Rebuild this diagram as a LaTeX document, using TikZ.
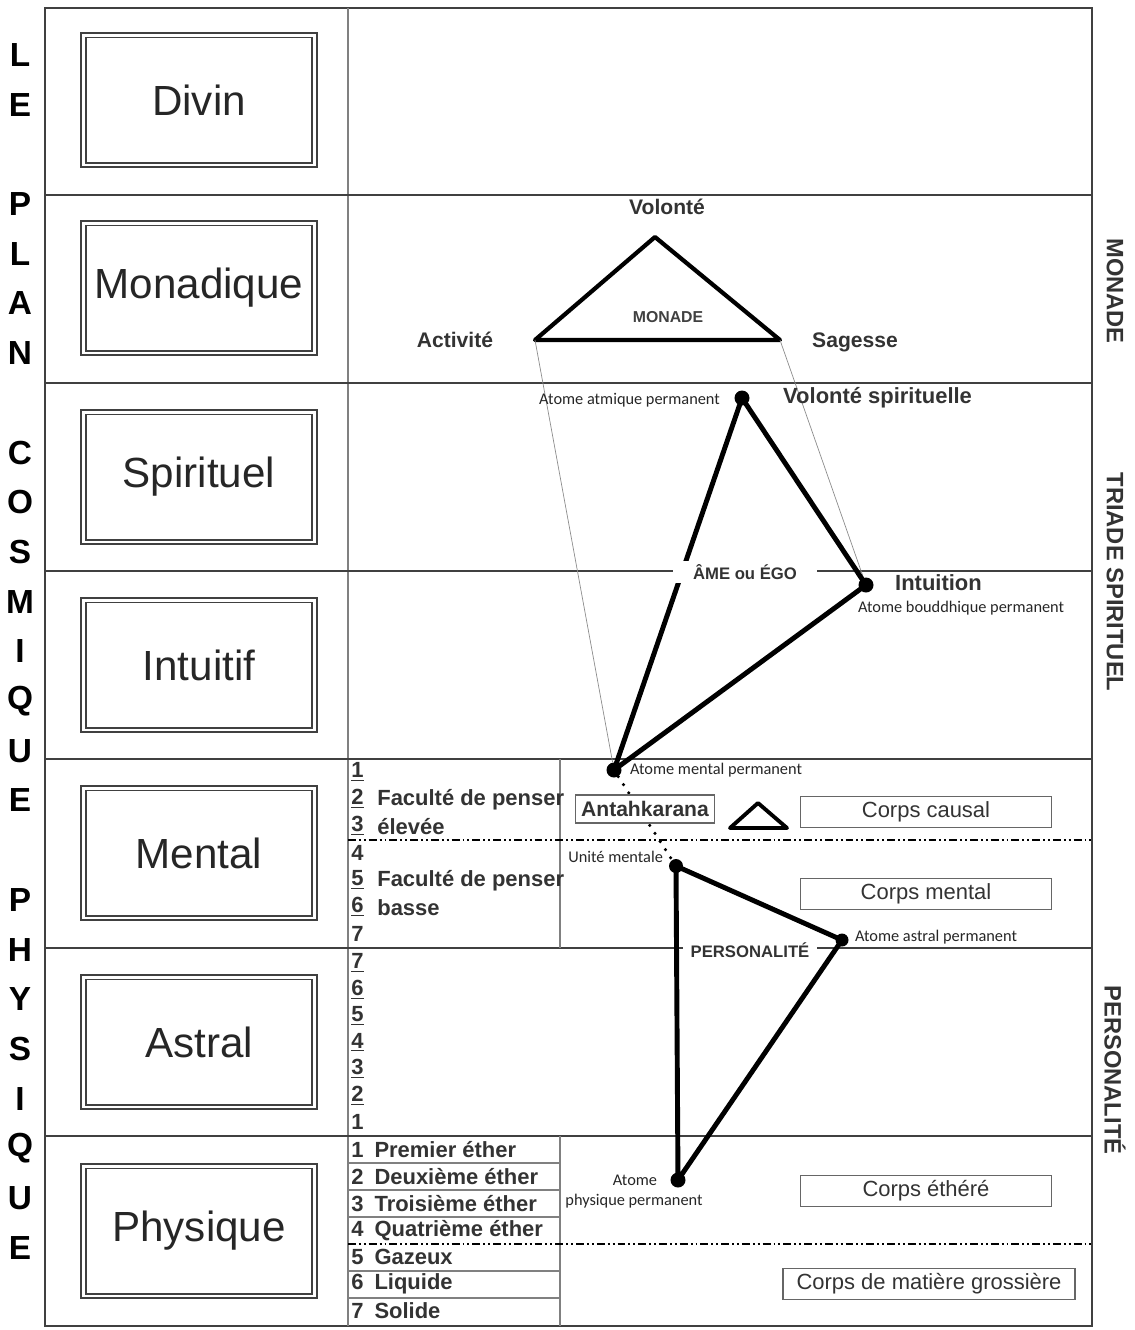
\documentclass[tikz,border=0pt]{standalone}
\usepackage{fontspec}
\setmainfont{Liberation Sans}
\newfontfamily\calib{Carlito}
\begin{document}
\begin{tikzpicture}[x=0.02cm, y=-0.02cm,
    plan/.style={draw=black!75, double=white, line width=1.1pt, double distance=1.7pt,
        minimum width=4.62cm, minimum height=2.6cm, inner sep=0pt,
        font=\fontsize{24}{24}\selectfont, text=black!85},
    lettre/.style={font=\fontsize{19}{19}\selectfont\bfseries},
    cote/.style={rotate=-90, font=\fontsize{13.5}{13.5}\selectfont\bfseries, text=black!80},
    atome/.style={circle, fill, inner sep=0pt, minimum size=0.3cm},
    tri/.style={line width=2.8pt, line join=round},
    corps/.style={draw=black!60, line width=0.8pt, minimum width=5.02cm, minimum height=0.62cm,
        inner sep=0pt, font=\fontsize{12.5}{12.5}\selectfont, text=black!80},
    petit/.style={font=\calib\fontsize{9.3}{9.3}\selectfont, inner sep=1pt, text=black!85},
    moyen/.style={font=\bfseries\fontsize{12}{12}\selectfont, text=black!80, text height=1.6ex, text depth=0.4ex},
    num/.style={anchor=west, font=\bfseries\fontsize{12.5}{12.5}\selectfont, inner sep=0pt, text=black!80},
    tiret/.style={line width=1.1pt, dash pattern=on 4.5pt off 1.7pt on 1.1pt off 1.7pt on 1.1pt off 1.7pt}]
    \useasboundingbox (0,0) rectangle (1134,1330);

    \draw[line width=1.2pt, black!75] (45,8) rectangle (1092,1326);
    \draw[line width=0.6pt, black!50] (348,8) -- (348,1326);
    \foreach \y in {195,383,571,759,948,1136}
        \draw[line width=1.1pt, black!75] (45,\y) -- (1092,\y);

    \foreach \c [count=\i from 0] in {L,E,{},P,L,A,N,{},C,O,S,M,I,Q,U,E,{},P,H,Y,S,I,Q,U,E}
        \node[lettre] (l\i) at (20,55+49.7*\i) {\c};

    \node[plan] (divin) at (199,100) {Divin};
    \node[plan] (monadique) at (199,288) {Monadique};
    \node[plan] (spirituel) at (199,477) {Spirituel};
    \node[plan] (intuitif) at (199,665) {Intuitif};
    \node[plan] (mental) at (199,853) {Mental};
    \node[plan] (astral) at (199,1042) {Astral};
    \node[plan] (physique) at (199,1231) {Physique};

    \node[cote] (cmonade) at (1115,291) {MONADE};
    \node[cote] (ctriade) at (1115,582) {TRIADE SPIRITUEL};
    \node[cote] (cperso) at (1115,1070) {PERSONALITÉ};

    \draw[line width=0.6pt, black!50] (560,759) -- (560,948);
    \draw[tiret] (348,840) -- (1092,840);
    \foreach \n [count=\i from 0] in {\underline{1},\underline{2},\underline{3},4,\underline{5},\underline{6},7}
        \node[num] (m\i) at (351,772+27*\i) {\n};
    \node[num] (fhaute) at (377,800) {Faculté de penser};
    \node[num] (fhaute2) at (377,827) {élevée};
    \node[num] (fbasse) at (377,881) {Faculté de penser};
    \node[num] (fbasse2) at (377,908) {basse};

    \foreach \n [count=\i from 0] in {\underline{7},\underline{6},\underline{5},\underline{4},\underline{3},\underline{2},1}
        \node[num] (a\i) at (351,963+26.5*\i) {\n};

    \draw[line width=0.6pt, black!50] (560,1136) -- (560,1326);
    \foreach \y in {1163,1190,1217,1271,1298}
        \draw[line width=0.6pt, black!50] (348,\y) -- (560,\y);
    \draw[tiret] (348,1244) -- (1092,1244);
    \foreach \t [count=\i] in {Premier éther,Deuxième éther,Troisième éther,Quatrième éther,Gazeux,Liquide,Solide}
        \node[num] (p\i) at (351,1150+26.8*\i-26.8) {\i\enspace\t};

    \coordinate (vol) at (655,237);
    \coordinate (act) at (535,340);
    \coordinate (sag) at (780,340);
    \draw[line width=2.4pt, line join=round] (vol) -- (sag) -- (act) -- cycle;
    \node[moyen] (lvol) at (667,209) {Volonté};
    \node[moyen] (lact) at (455,342) {Activité};
    \node[moyen] (lsag) at (855,342) {Sagesse};
    \node[font=\bfseries\fontsize{9}{9}\selectfont, text=black!75] (lmon) at (668,317) {MONADE};

    \node[atome] (atm) at (742,398) {};
    \node[atome] (bud) at (866,585) {};
    \node[atome] (men) at (614,770) {};
    \node[atome, minimum size=0.28cm] (uni) at (676,866) {};
    \node[atome, minimum size=0.26cm] (ast) at (842,940) {};
    \node[atome] (phy) at (678,1180) {};

    \draw[line width=0.4pt, black!45] (act) -- (men);
    \draw[line width=0.4pt, black!45] (sag) -- (bud);
    \draw[tri] (atm.center) -- (bud.center) -- (men.center) -- cycle;
    \draw[tri] (uni.center) -- (ast.center) -- (phy.center) -- cycle;
    \draw[line width=2pt, line cap=round, dash pattern=on 0pt off 5.5pt] (men) -- (uni);

    \node[fill=white, inner xsep=0.4cm, inner ysep=2pt, font=\bfseries\fontsize{9.5}{9.5}\selectfont, text=black!80] (ame) at (745,572) {ÂME ou ÉGO};
    \node[fill=white, inner xsep=0.15cm, inner ysep=2pt, font=\bfseries\fontsize{9.5}{9.5}\selectfont, text=black!80] (perso) at (750,950) {PERSONALITÉ};

    \node[petit, anchor=east] (latm) at (722,400) {Atome atmique permanent};
    \node[moyen, anchor=west, font=\bfseries\fontsize{12.5}{12.5}\selectfont] (lvs) at (777,398) {Volonté spirituelle};
    \node[moyen, anchor=west, font=\bfseries\fontsize{12.5}{12.5}\selectfont] (lint) at (889,585) {Intuition};
    \node[petit, anchor=west] (lbud) at (856,608) {Atome bouddhique permanent};
    \node[petit, anchor=west] (lmen) at (628,770) {Atome mental permanent};
    \node[petit, anchor=east] (luni) at (665,857) {Unité mentale};
    \node[petit, anchor=west] (last) at (853,937) {Atome astral permanent};
    \node[petit] (lphy) at (635,1180) {Atome};
    \node[petit] (lphy2) at (634,1201) {physique permanent};

    \node[corps, fill=white, minimum width=2.78cm, minimum height=0.56cm, font=\bfseries\fontsize{12}{12}\selectfont] (antah) at (645,809) {Antahkarana};
    \draw[line width=2.2pt, line join=round] (758,803) -- (787,828) -- (730,828) -- cycle;
    \node[corps] (causal) at (926,812) {Corps causal};
    \node[corps] (cmental) at (926,894) {Corps mental};
    \node[corps] (ether) at (926,1191) {Corps éthéré};
    \node[corps, minimum width=5.84cm] (gross) at (929,1284) {Corps de matière grossière};
\end{tikzpicture}
\end{document}
